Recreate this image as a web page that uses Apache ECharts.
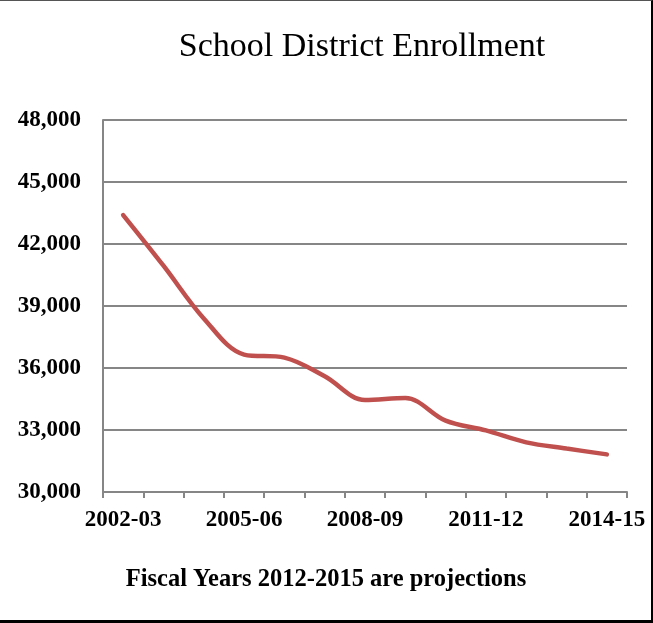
<!DOCTYPE html>
<html>
<head>
<meta charset="utf-8">
<title>School District Enrollment</title>
<script src="https://cdn.jsdelivr.net/npm/echarts@6/dist/echarts.min.js"></script>
<style>
  html, body { margin: 0; padding: 0; background: #fff; }
  #frame {
    position: relative;
    width: 653px; height: 623px;
    box-sizing: border-box;
    border-top: 1px solid #555;
    border-right: 2px solid #000;
    border-bottom: 3px solid #000;
  }
  #chart { position: absolute; left: 0; top: -1px; width: 653px; height: 623px; }
</style>
</head>
<body>
<div id="frame"><div id="chart"></div></div>
<script>
// Fiscal years on the x axis
const years = ['2002-03', '2003-04', '2004-05', '2005-06', '2006-07', '2007-08', '2008-09',
               '2009-10', '2010-11', '2011-12', '2012-13', '2013-14', '2014-15'];
// Enrollment per fiscal year (2012-13 onward are projections)
const enrollment = [43400, 40950, 38400, 36650, 36500, 35600, 34450,
                    34550, 33450, 32980, 32400, 32100, 31820];
// Value axis range
const yMin = 30000;
const yMax = 48000;
const yStep = 3000;

const serif = '"Liberation Serif", "DejaVu Serif", serif';
const chart = echarts.init(document.getElementById('chart'), null, { renderer: 'canvas' });

chart.setOption({
  animation: false,
  title: [
    {
      text: 'School District Enrollment',
      left: 357, top: 25, textAlign: 'center',
      textStyle: { fontFamily: serif, fontSize: 34, fontWeight: 'normal', color: '#000' }
    },
    {
      text: 'Fiscal Years 2012-2015 are projections',
      left: 321, top: 562, textAlign: 'center',
      textStyle: { fontFamily: serif, fontSize: 24.5, fontWeight: 'bold', color: '#000' }
    }
  ],
  grid: { left: 103, right: 26, top: 120, bottom: 131, containLabel: false },
  xAxis: {
    type: 'category',
    data: years,
    boundaryGap: true,
    axisLine: { lineStyle: { color: '#868686', width: 2 } },
    axisTick: { show: true, length: 6, interval: 0, lineStyle: { color: '#868686', width: 2 } },
    axisLabel: {
      interval: 2, margin: 17,
      fontFamily: serif, fontSize: 23, fontWeight: 'bold', color: '#000'
    },
    splitLine: { show: false }
  },
  yAxis: {
    type: 'value',
    min: yMin, max: yMax, interval: yStep,
    axisLine: { show: true, lineStyle: { color: '#868686', width: 2 } },
    axisTick: { show: false },
    axisLabel: {
      margin: 22,
      fontFamily: serif, fontSize: 23, fontWeight: 'bold', color: '#000',
      formatter: v => v.toLocaleString('en-US')
    },
    splitLine: { lineStyle: { color: '#868686', width: 2 } }
  },
  series: [{
    type: 'line',
    data: enrollment,
    smooth: 0.35,
    symbol: 'none',
    lineStyle: { color: '#c0504d', width: 4.5, cap: 'round' }
  }]
});
</script>
</body>
</html>
